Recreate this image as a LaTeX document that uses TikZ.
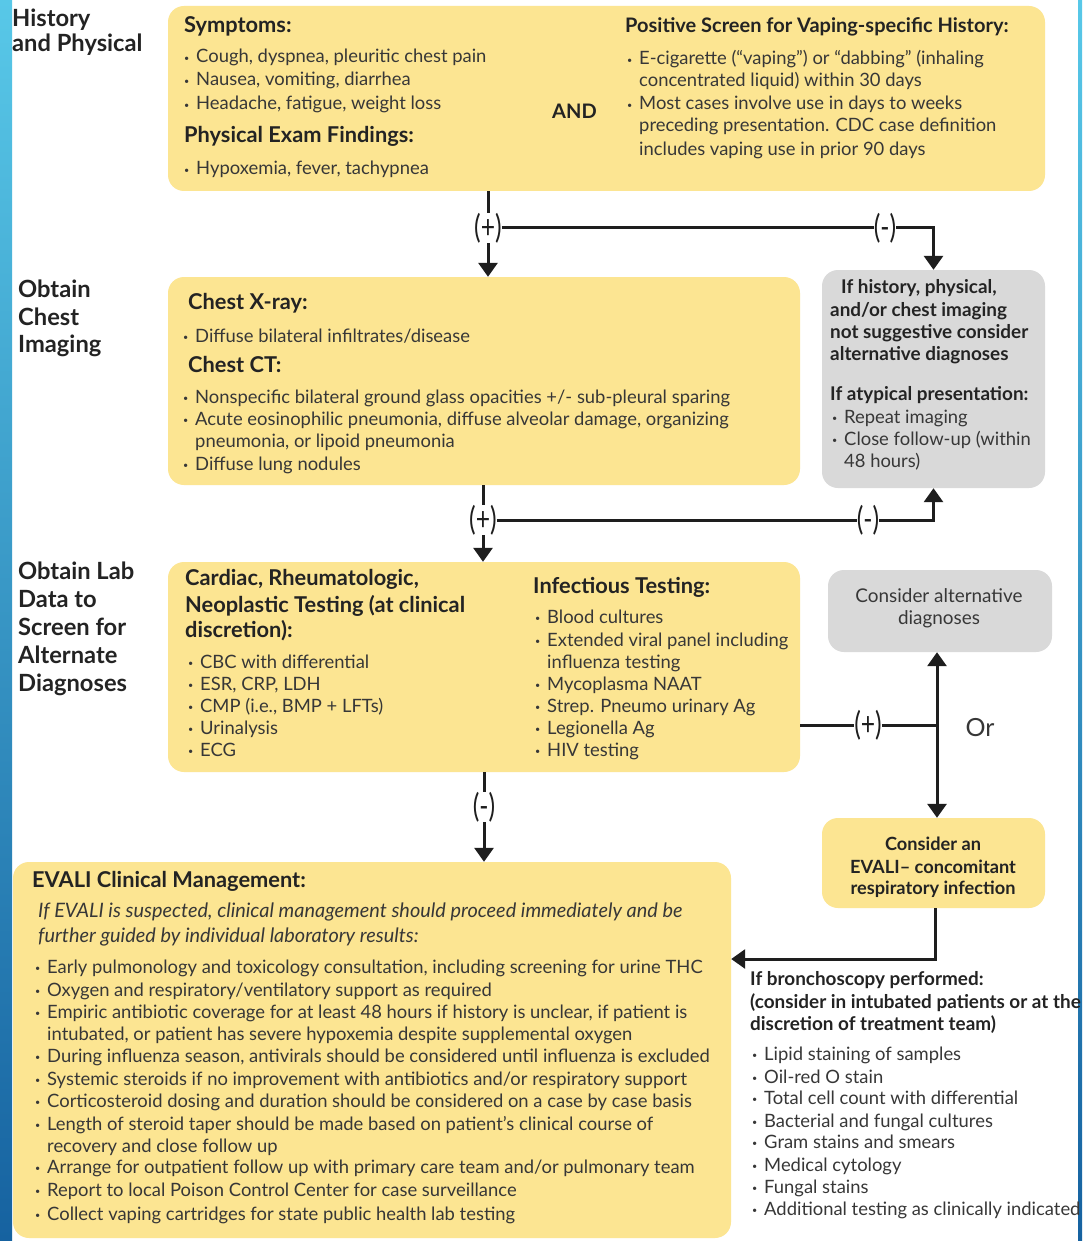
\documentclass[tikz,border=0pt]{standalone}
\usepackage{fontspec}
\setmainfont{Lato}
\usetikzlibrary{arrows.meta,calc}
\definecolor{ylw}{RGB}{252,229,146}
\definecolor{gry}{RGB}{217,217,217}
\definecolor{txtc}{RGB}{55,55,55}
\definecolor{hdc}{RGB}{35,35,35}
\definecolor{lnc}{RGB}{30,30,30}
\definecolor{bartop}{RGB}{88,200,232}
\definecolor{barbot}{RGB}{22,98,160}
\newcommand\bodyf{\fontsize{18.4}{22}\selectfont}
\newcommand\headf{\fontsize{21.8}{26}\selectfont\bfseries}
\newcommand\headsf{\fontsize{20}{24}\selectfont\bfseries}
\newcommand\sidef{\fontsize{23.7}{28}\selectfont\bfseries}
\newcommand\smbf{\fontsize{18.9}{22}\selectfont\bfseries}
\newcommand\bu{\makebox[12pt][l]{\raisebox{1.5pt}{\fontsize{9}{9}\selectfont\textbullet}}}
\newcommand\sgn[1]{\scalebox{0.95}[1.25]{#1}}
\tikzset{
  box/.style={rectangle, rounded corners=16pt, inner sep=0pt, draw=none},
  ybox/.style={box, fill=ylw},
  gbox/.style={box, fill=gry},
  txt/.style={anchor=base west, inner sep=0pt, text=txtc, font=\bodyf},
  itx/.style={txt, font=\fontsize{19.9}{22}\selectfont\itshape},
  hd/.style={anchor=base west, inner sep=0pt, text=hdc, font=\headf},
  hds/.style={hd, font=\headsf},
  side/.style={anchor=base west, inner sep=0pt, text=hdc, font=\sidef},
  smb/.style={anchor=base west, inner sep=0pt, text=hdc, font=\smbf},
  ctr/.style={anchor=base, inner sep=0pt, text=txtc, font=\fontsize{18.9}{22}\selectfont},
  ctrb/.style={anchor=base, inner sep=0pt, text=hdc, font=\fontsize{18.2}{22}\selectfont\bfseries},
  sign/.style={inner sep=0pt, text=lnc, font=\fontsize{26}{26}\selectfont},
  conn/.style={draw=lnc, line width=3pt},
  arr/.style={conn, -{Triangle[width=19pt,length=14pt]}}
}
\begin{document}
\begin{tikzpicture}[x=1pt,y=-1pt]
\useasboundingbox (0,0) rectangle (1082,1241);
\fill[white] (0,0) rectangle (1082,1241);
\shade[top color=bartop, bottom color=barbot] (0,0) rectangle (12,1241);
\shade[top color=bartop, bottom color=barbot] (1078,0) rectangle (1082,1241);

% boxes
\node[ybox, minimum width=877pt, minimum height=185pt] (box1) at (606.5,98.5) {};
\node[ybox, minimum width=632pt, minimum height=208pt] (box2) at (484,381) {};
\node[gbox, minimum width=223pt, minimum height=218pt] (gray1) at (933.5,379) {};
\node[ybox, minimum width=632pt, minimum height=210pt] (box3) at (484,667) {};
\node[gbox, minimum width=224pt, minimum height=82pt] (gray2) at (940,611) {};
\node[ybox, minimum width=223pt, minimum height=90pt] (box4) at (933.5,863) {};
\node[ybox, minimum width=718pt, minimum height=376pt] (box5) at (372,1050) {};

% side labels
\node[side] (l1a) at (12,27) {History};
\node[side] (l1b) at (12,52) {and Physical};
\node[side] (l2a) at (18,297) {Obtain};
\node[side] (l2b) at (18,325) {Chest};
\node[side] (l2c) at (18,352) {Imaging};
\node[side] (l3a) at (18,579) {Obtain Lab};
\node[side] (l3b) at (18,607) {Data to};
\node[side] (l3c) at (18,635) {Screen for};
\node[side] (l3d) at (18,663) {Alternate};
\node[side] (l3e) at (18,691) {Diagnoses};

% box1
\node[hd] (b1h1) at (184,33) {Symptoms:};
\node[txt] (b1s1) at (184,63) {\bu Cough, dyspnea, pleuritic chest pain};
\node[txt] (b1s2) at (184,86) {\bu Nausea, vomiting, diarrhea};
\node[txt] (b1s3) at (184,110) {\bu Headache, fatigue, weight loss};
\node[hd] (b1h2) at (184,143) {Physical Exam Findings:};
\node[txt] (b1p1) at (184,175) {\bu Hypoxemia, fever, tachypnea};
\node[hds] (and) at (552,119) {AND};
\node[hds] (b1h3) at (625,33) {Positive Screen for Vaping-specific History:};
\node[txt] (b1v1) at (627,65) {\bu E-cigarette (“vaping”) or “dabbing” (inhaling};
\node[txt] (b1v2) at (639,87) {concentrated liquid) within 30 days};
\node[txt] (b1v3) at (627,110) {\bu Most cases involve use in days to weeks};
\node[txt] (b1v4) at (639,132) {preceding presentation. CDC case definition};
\node[txt] (b1v5) at (639,156) {includes vaping use in prior 90 days};

% box2
\node[hd] (b2h1) at (188,309) {Chest X-ray:};
\node[txt] (b2x1) at (183,342) {\bu Diffuse bilateral infiltrates/disease};
\node[hd] (b2h2) at (188,372) {Chest CT:};
\node[txt] (b2c1) at (183,403) {\bu Nonspecific bilateral ground glass opacities +/- sub-pleural sparing};
\node[txt] (b2c2) at (183,425) {\bu Acute eosinophilic pneumonia, diffuse alveolar damage, organizing};
\node[txt] (b2c3) at (195,447) {pneumonia, or lipoid pneumonia};
\node[txt] (b2c4) at (183,470) {\bu Diffuse lung nodules};

% gray1
\node[smb] (g1a) at (841,293) {If history, physical,};
\node[smb] (g1b) at (830,316) {and/or chest imaging};
\node[smb] (g1c) at (830,338) {not suggestive consider};
\node[smb] (g1d) at (830,360) {alternative diagnoses};
\node[smb] (g1e) at (830,400) {If atypical presentation:};
\node[txt] (g1f) at (832,423) {\bu Repeat imaging};
\node[txt] (g1g) at (832,445) {\bu Close follow-up (within};
\node[txt] (g1h) at (844,467) {48 hours)};

% box3
\node[hd] (b3h1) at (185,585) {Cardiac, Rheumatologic,};
\node[hd] (b3h2) at (185,612) {Neoplastic Testing (at clinical};
\node[hd] (b3h3) at (185,637) {discretion):};
\node[txt] (b3a1) at (188,668) {\bu CBC with differential};
\node[txt] (b3a2) at (188,690) {\bu ESR, CRP, LDH};
\node[txt] (b3a3) at (188,712) {\bu CMP (i.e., BMP + LFTs)};
\node[txt] (b3a4) at (188,734) {\bu Urinalysis};
\node[txt] (b3a5) at (188,756) {\bu ECG};
\node[hd] (b3h4) at (533,593) {Infectious Testing:};
\node[txt] (b3i1) at (535,623) {\bu Blood cultures};
\node[txt] (b3i2) at (535,646) {\bu Extended viral panel including};
\node[txt] (b3i3) at (547,668) {influenza testing};
\node[txt] (b3i4) at (535,690) {\bu Mycoplasma NAAT};
\node[txt] (b3i5) at (535,712) {\bu Strep. Pneumo urinary Ag};
\node[txt] (b3i6) at (535,734) {\bu Legionella Ag};
\node[txt] (b3i7) at (535,756) {\bu HIV testing};

% gray2, box4
\node[ctr] (g2a) at (939,602) {Consider alternative};
\node[ctr] (g2b) at (939,624) {diagnoses};
\node[ctrb] (b4a) at (933,850) {Consider an};
\node[ctrb] (b4b) at (933,873) {EVALI– concomitant};
\node[ctrb] (b4c) at (933,894) {respiratory infection};
\node[anchor=base, inner sep=0pt, text=txtc, font=\fontsize{25}{25}\selectfont] (or) at (980,736) {Or};

% box5
\node[hd] (b5h) at (32,887) {EVALI Clinical Management:};
\node[itx] (b5i1) at (38,917) {If EVALI is suspected, clinical management should proceed immediately and be};
\node[itx] (b5i2) at (38,942) {further guided by individual laboratory results:};
\node[txt] (b5a) at (35,973) {\bu Early pulmonology and toxicology consultation, including screening for urine THC};
\node[txt] (b5b) at (35,996) {\bu Oxygen and respiratory/ventilatory support as required};
\node[txt] (b5c) at (35,1018) {\bu Empiric antibiotic coverage for at least 48 hours if history is unclear, if patient is};
\node[txt] (b5d) at (47,1040) {intubated, or patient has severe hypoxemia despite supplemental oxygen};
\node[txt] (b5e) at (35,1062) {\bu During influenza season, antivirals should be considered until influenza is excluded};
\node[txt] (b5f) at (35,1085) {\bu Systemic steroids if no improvement with antibiotics and/or respiratory support};
\node[txt] (b5g) at (35,1107) {\bu Corticosteroid dosing and duration should be considered on a case by case basis};
\node[txt] (b5h2) at (35,1130) {\bu Length of steroid taper should be made based on patient’s clinical course of};
\node[txt] (b5i) at (47,1152) {recovery and close follow up};
\node[txt] (b5j) at (35,1173) {\bu Arrange for outpatient follow up with primary care team and/or pulmonary team};
\node[txt] (b5k) at (35,1196) {\bu Report to local Poison Control Center for case surveillance};
\node[txt] (b5l) at (35,1220) {\bu Collect vaping cartridges for state public health lab testing};

% bronchoscopy
\node[smb] (br1) at (750,985) {If bronchoscopy performed:};
\node[smb] (br2) at (750,1008) {(consider in intubated patients or at the};
\node[smb] (br3) at (750,1030) {discretion of treatment team)};
\node[txt] (br4) at (752,1060) {\bu Lipid staining of samples};
\node[txt] (br5) at (752,1083) {\bu Oil-red O stain};
\node[txt] (br6) at (752,1104) {\bu Total cell count with differential};
\node[txt] (br7) at (752,1127) {\bu Bacterial and fungal cultures};
\node[txt] (br8) at (752,1148) {\bu Gram stains and smears};
\node[txt] (br9) at (752,1171) {\bu Medical cytology};
\node[txt] (br10) at (752,1193) {\bu Fungal stains};
\node[txt] (br11) at (752,1215) {\bu Additional testing as clinically indicated};

% connector labels
\node[sign] (plus1) at (488,228) {\sgn{(+)}};
\node[sign] (minus1) at (885,228) {\sgn{(-)}};
\node[sign] (plus2) at (483,520) {\sgn{(+)}};
\node[sign] (minus2) at (868,520) {\sgn{(-)}};
\node[sign] (minus3) at (484,807) {\sgn{(-)}};
\node[sign] (plus3) at (868,725) {\sgn{(+)}};
\coordinate (j) at (937,725);
\coordinate (k) at (935,959);

% connectors
\draw[conn] (plus1 |- box1.south) -- (plus1.north);
\draw[arr] (plus1.south) -- (plus1 |- box2.north);
\draw[conn] (plus1.east) -- (minus1.west);
\draw[arr] (minus1.east) -- (minus1.east -| gray1.north) -- (gray1.north);

\draw[conn] (plus2 |- box2.south) -- (plus2.north);
\draw[arr] (plus2.south) -- (plus2 |- box3.north);
\draw[conn] (plus2.east) -- (minus2.west);
\draw[arr] (minus2.east) -- (minus2.east -| gray1.south) -- (gray1.south);

\draw[conn] (minus3 |- box3.south) -- (minus3.north);
\draw[arr] (minus3.south) -- (minus3 |- box5.north);

\draw[conn] (box3.east |- plus3) -- (plus3.west);
\draw[conn] (plus3.east) -- (j);
\draw[arr] (j) -- (j |- gray2.south);
\draw[arr] (j) -- (j |- box4.north);
\draw[arr] (k |- box4.south) -- (k) -- (k -| box5.east);
\end{tikzpicture}
\end{document}
